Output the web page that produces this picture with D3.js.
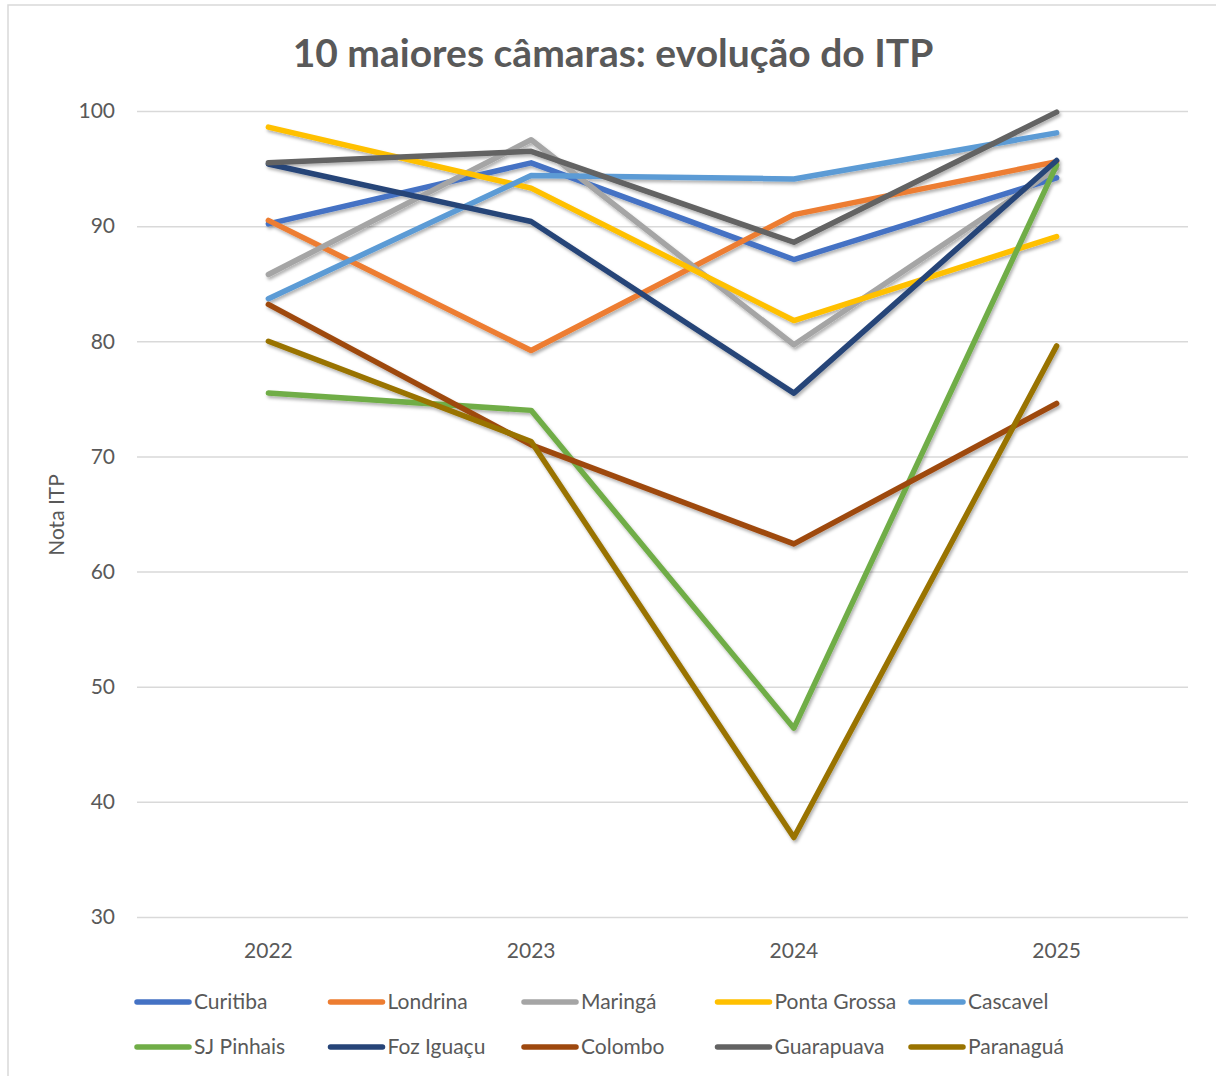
<!DOCTYPE html>
<html>

<head>
    <meta charset="utf-8">
    <script src="https://cdn.jsdelivr.net/npm/d3@7"></script>
    <style>
        body { margin: 0; background: #fff; }
        text {
            fill: #595959;
            font-family: Lato, "Open Sans", sans-serif;
        }
    </style>
</head>

<body>

    <script>

        var years = ["2022", "2023", "2024", "2025"];
        var yTicks = [30, 40, 50, 60, 70, 80, 90, 100];

        var cities = ["Curitiba", "Londrina", "Maringá", "Ponta Grossa", "Cascavel",
            "SJ Pinhais", "Foz Iguaçu", "Colombo", "Guarapuava", "Paranaguá"];
        var colors = ["#4472C4", "#ED7D31", "#A5A5A5", "#FFC000", "#5B9BD5",
            "#70AD47", "#264478", "#9E480E", "#636363", "#997300"];

        var curitiba = [90.2, 95.5, 87.1, 94.2];
        var londrina = [90.5, 79.2, 91.0, 95.6];
        var maringa = [85.8, 97.5, 79.7, 95.0];
        var pontaGrossa = [98.6, 93.3, 81.8, 89.1];
        var cascavel = [83.7, 94.4, 94.1, 98.1];
        var sjPinhais = [75.5, 74.0, 46.4, 95.3];
        var fozIguacu = [95.4, 90.4, 75.5, 95.7];
        var colombo = [83.2, 71.0, 62.4, 74.6];
        var guarapuava = [95.5, 96.5, 88.6, 99.9];
        var paranagua = [80.0, 71.3, 36.9, 79.6];

        var series = [curitiba, londrina, maringa, pontaGrossa, cascavel,
            sjPinhais, fozIguacu, colombo, guarapuava, paranagua];

        var svg = d3.select('body')
            .append('svg')
            .attr('width', 1216)
            .attr('height', 1076);

        // chart frame (only top and left edges are visible in the source)
        svg.append('rect')
            .attr('x', 8).attr('y', 5)
            .attr('width', 1230).attr('height', 1090)
            .attr('fill', 'none')
            .attr('stroke', '#d9d9d9')
            .attr('stroke-width', 1.5);

        var defs = svg.append('defs');
        var f = defs.append('filter').attr('id', 'shadow')
            .attr('x', '-10%').attr('y', '-10%').attr('width', '120%').attr('height', '120%');
        f.append('feDropShadow')
            .attr('dx', 1.5).attr('dy', 2.5)
            .attr('stdDeviation', 1.8)
            .attr('flood-color', '#000')
            .attr('flood-opacity', 0.3);

        var x = d3.scaleBand().domain(years).range([137, 1188]);
        var y = d3.scaleLinear().domain([30, 100]).range([917, 111]);

        // title
        svg.append('text')
            .attr('x', 613).attr('y', 67)
            .attr('text-anchor', 'middle')
            .style('font-size', '39px')
            .style('font-weight', 'bold')
            .text('10 maiores câmaras: evolução do ITP');

        // gridlines + y labels
        var yAxis = svg.append('g')
            .attr('transform', 'translate(137,0)')
            .call(d3.axisLeft(y).tickValues(yTicks).tickSize(-1051).tickPadding(22));
        yAxis.select('.domain').remove();
        yAxis.selectAll('line').attr('stroke', '#d9d9d9').attr('stroke-width', 1.5);
        yAxis.selectAll('text')
            .style('font-size', '21px')
            .style('font-family', 'Lato, sans-serif')
            .attr('fill', '#595959');

        var xAxis = svg.append('g')
            .attr('transform', 'translate(0,921)')
            .call(d3.axisBottom(x).tickSize(0).tickPadding(22));
        xAxis.select('.domain').remove();
        xAxis.selectAll('text')
            .style('font-size', '21px')
            .style('font-family', 'Lato, sans-serif')
            .attr('fill', '#595959');

        svg.append('text')
            .attr('transform', 'translate(64,515) rotate(-90)')
            .attr('text-anchor', 'middle')
            .style('font-size', '21px')
            .text('Nota ITP');

        var line = d3.line()
            .x(function (d, i) { return x(years[i]) + x.bandwidth() / 2; })
            .y(function (d) { return y(d); });

        svg.append('g').attr('filter', 'url(#shadow)')
            .selectAll('path')
            .data(series)
            .enter().append('path')
            .attr('d', line)
            .attr('fill', 'none')
            .attr('stroke', function (d, i) { return colors[i]; })
            .attr('stroke-width', 5.5)
            .attr('stroke-linejoin', 'round')
            .attr('stroke-linecap', 'round');

        // legend, 5 per row
        var legend = svg.append('g').selectAll('g')
            .data(cities)
            .enter().append('g')
            .attr('transform', function (d, i) {
                return 'translate(' + (137 + (i % 5) * 193.5) + ',' + (1002 + Math.floor(i / 5) * 45) + ')';
            });
        legend.append('line')
            .attr('x1', 0).attr('x2', 52)
            .attr('stroke', function (d, i) { return colors[i]; })
            .attr('stroke-width', 5.5)
            .attr('stroke-linecap', 'round');
        legend.append('text')
            .attr('x', 57).attr('dy', '0.35em')
            .style('font-size', '21px')
            .text(function (d) { return d; });
    </script>

</body>

</html>
